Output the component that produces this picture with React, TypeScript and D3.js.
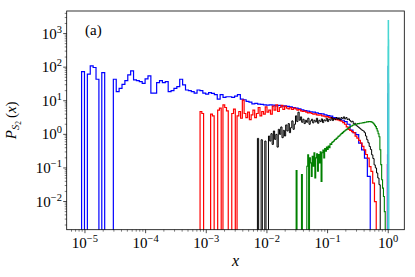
import * as d3 from 'd3'

const W = 415
const H = 277
const PLOT = { left: 66.7, right: 404.3, top: 11, bottom: 229.7 }
const FONT = '"Liberation Serif", "DejaVu Serif", serif'

// axis ranges (log scale)
const X_DOMAIN: [number, number] = [5.0e-6, 1.84]
const Y_DOMAIN: [number, number] = [1.45e-3, 4.7e3]

const X_TICKS = [1e-5, 1e-4, 1e-3, 1e-2, 1e-1, 1]
const X_TICK_EXP = ['−5', '−4', '−3', '−2', '−1', '0']
const Y_TICKS = [1e-2, 1e-1, 1, 1e1, 1e2, 1e3]
const Y_TICK_EXP = ['−2', '−1', '0', '1', '2', '3']

// histogram densities, log10 per bin (null = empty bin), 100 log-spaced bins each
const BLUE_RANGE: [number, number] = [8.8e-6, 0.505]
const BLUE = [
  1.87, null, 1.79, 2.04, 1.99, 1.64, null, 1.84, null, null,
  null, 1.64, 1.27, 1.37, 1.49, 1.6, 1.77, 1.89, 1.62, 1.6,
  1.57, 1.52, 1.65, 1.74, 1.23, 1.23, 1.54, 1.6, 1.54, 1.57,
  1.27, 1.3, 1.37, 1.42, 1.64, 1.47, 1.32, 1.3, 1.27, 1.23,
  1.32, 1.3, 1.23, 1.2, 1.24, 1.22, 1.18, 1.05, 1.18, 1.1,
  1.12, 1.12, 1.1, 1.14, 1.18, 1.05, 1.03, 0.98, 0.96, 0.91,
  0.92, 0.9, 0.89, 0.88, 0.87, 0.88, 0.87, 0.85, 0.86, 0.84,
  0.85, 0.83, 0.82, 0.8, 0.78, 0.76, 0.73, 0.71, 0.69, 0.67,
  0.66, 0.64, 0.62, 0.61, 0.58, 0.56, 0.54, 0.5, 0.48, 0.45,
  0.42, 0.38, 0.3, 0.13, 0.05, -0.01, -0.26, -0.46, -0.71, -1.25,
]

const RED_RANGE: [number, number] = [7.9e-4, 0.634]
const RED = [
  0.68, 0.62, null, null, null, null, 0.6, 0.55, null, null,
  0.72, 0.78, null, 0.88, 0.8, 0.7, null, null, 0.62, 0.75,
  null, 0.55, 0.68, 0.48, 1.02, 0.62, 0.5, 0.66, 0.44, 0.58,
  0.72, 0.5, 0.62, 0.8, 0.55, 0.68, 0.6, 0.82, 0.66, 0.72,
  0.6, 0.84, 0.72, 0.88, 0.68, 0.8, 0.86, 0.74, 0.83, 0.78,
  0.76, 0.8, 0.74, 0.78, 0.76, 0.72, 0.74, 0.7, 0.68, 0.69,
  0.66, 0.64, 0.65, 0.62, 0.6, 0.61, 0.58, 0.57, 0.58, 0.55,
  0.54, 0.52, 0.53, 0.5, 0.49, 0.47, 0.46, 0.44, 0.43, 0.41,
  0.39, 0.35, 0.3, 0.22, 0.15, 0.12, 0.08, 0.05, -0.05, -0.11,
  -0.18, -0.26, -0.36, -0.46, -0.6, -0.71, -0.96, -1.1, -1.45, -2.0,
]

const BLACK_RANGE: [number, number] = [6.97e-3, 0.738]
const BLACK = [
  -0.12, null, null, -0.16, null, null, -0.2, null, null, -0.05,
  -0.2, 0.02, -0.3, 0.1, -0.15, 0.0, -0.38, 0.15, 0.0, 0.22,
  -0.1, 0.12, -0.05, 0.28, 0.1, 0.32, 0.05, 0.2, 0.4, 0.15,
  0.3, 0.55, 0.38, 0.66, 0.42, 0.52, 0.36, 0.45, 0.32, 0.42,
  0.36, 0.48, 0.3, 0.4, 0.45, 0.34, 0.42, 0.37, 0.48, 0.33,
  0.42, 0.38, 0.46, 0.35, 0.43, 0.4, 0.48, 0.38, 0.45, 0.42,
  0.5, 0.41, 0.47, 0.44, 0.5, 0.45, 0.49, 0.43, 0.5, 0.47,
  0.52, 0.46, 0.5, 0.44, 0.46, 0.41, 0.37, 0.39, 0.32, 0.33,
  0.27, 0.24, 0.21, 0.18, 0.15, 0.12, 0.1, 0.05, -0.05, -0.16,
  -0.25, -0.36, -0.45, -0.61, -0.72, -0.91, -1.0, -1.15, -1.3, -1.5,
]

const GREEN_RANGE: [number, number] = [0.0303, 0.892]
const GREEN = [
  -1.08, null, null, null, null, null, -1.2, null, null, null,
  null, null, -0.95, -0.61, null, -0.7, -0.85, -1.25, -0.65, -0.95,
  -0.55, -1.3, -0.7, -0.58, -1.1, -0.6, -0.85, -0.52, -1.4, -0.55,
  -0.47, -0.7, -0.42, -0.5, -0.38, -0.45, -0.35, -0.4, -0.28, -0.3,
  -0.24, -0.22, -0.2, -0.16, -0.15, -0.12, -0.1, -0.06, -0.05, -0.02,
  0.01, 0.03, 0.05, 0.08, 0.1, 0.12, 0.14, 0.16, 0.18, 0.2,
  0.22, 0.24, 0.25, 0.27, 0.28, 0.29, 0.3, 0.3, 0.31, 0.32,
  0.32, 0.33, 0.33, 0.34, 0.34, 0.35, 0.35, 0.36, 0.36, 0.37,
  0.37, 0.38, 0.38, 0.38, 0.37, 0.36, 0.34, 0.31, 0.27, 0.23,
  0.17, 0.1, 0.02, -0.07, -0.46, -0.9, -1.35, -1.6, -1.85, -2.3,
]

// narrow peaks at x ~ 1
const MAGENTA_RANGE: [number, number] = [0.968, 0.985]
const MAGENTA = [-0.9, -0.61]
const ROYAL_RANGE: [number, number] = [0.985, 1.01]
const ROYAL = [1.2, 2.02, 1.5]
const CYAN_RANGE: [number, number] = [0.995, 1.015]
const CYAN = [2.6, 3.38, 2.8]

const SERIES = [
  { name: 'blue', values: BLUE, range: BLUE_RANGE, color: '#0000ff', width: 1.2 },
  { name: 'red', values: RED, range: RED_RANGE, color: '#ff0000', width: 1.2 },
  { name: 'black', values: BLACK, range: BLACK_RANGE, color: '#000000', width: 1.0 },
  { name: 'green', values: GREEN, range: GREEN_RANGE, color: '#008000', width: 1.1 },
  { name: 'magenta', values: MAGENTA, range: MAGENTA_RANGE, color: '#bf00bf', width: 1.4 },
  { name: 'royal', values: ROYAL, range: ROYAL_RANGE, color: '#3a7bd5', width: 1.4 },
  { name: 'cyan', values: CYAN, range: CYAN_RANGE, color: '#48d6d2', width: 1.4 },
]

const x = d3.scaleLog().domain(X_DOMAIN).range([PLOT.left, PLOT.right])
const y = d3.scaleLog().domain(Y_DOMAIN).range([PLOT.bottom, PLOT.top])

function stepPath(values: (number | null)[], range: [number, number]) {
  const n = values.length
  const edges = d3.range(n + 1).map((i) => range[0] * Math.pow(range[1] / range[0], i / n))
  const below = PLOT.bottom + 6
  const yv = (v: number | null) => (v == null ? below : y(Math.pow(10, v)))
  const pts: [number, number][] = [[x(edges[0]), below]]
  values.forEach((v, i) => {
    pts.push([x(edges[i]), yv(v)])
    pts.push([x(edges[i + 1]), yv(v)])
  })
  pts.push([x(edges[n]), below])
  return d3.line()(pts) ?? ''
}

function minorTicks(domain: [number, number]) {
  const out: number[] = []
  for (let k = -7; k <= 4; k++) {
    for (let m = 2; m <= 9; m++) {
      const v = m * Math.pow(10, k)
      if (v > domain[0] && v < domain[1]) out.push(v)
    }
  }
  return out
}

const textStyle = { fontFamily: FONT }

export default function App() {
  const xMinor = minorTicks(X_DOMAIN)
  const yMinor = minorTicks(Y_DOMAIN)

  return (
    <div style={{ position: 'absolute', left: 0, top: 0 }}>
      <style>{'body{margin:0}'}</style>
      <svg width={W} height={H} style={{ display: 'block', background: '#fff' }}>
        <defs>
          <clipPath id="plot-clip">
            <rect x={PLOT.left} y={PLOT.top} width={PLOT.right - PLOT.left} height={PLOT.bottom - PLOT.top} />
          </clipPath>
        </defs>

        {/* histograms */}
        <g clipPath="url(#plot-clip)" fill="none">
          {SERIES.map((s) => (
            <path key={s.name} d={stepPath(s.values, s.range)} stroke={s.color} strokeWidth={s.width} />
          ))}
        </g>

        {/* frame */}
        <rect x={PLOT.left} y={PLOT.top} width={PLOT.right - PLOT.left} height={PLOT.bottom - PLOT.top}
          fill="none" stroke="#000" strokeWidth={0.8} />

        {/* ticks */}
        <g stroke="#000" strokeWidth={0.7}>
          {X_TICKS.map((t) => (
            <line key={'xM' + t} x1={x(t)} x2={x(t)} y1={PLOT.bottom} y2={PLOT.bottom + 3.5} />
          ))}
          {xMinor.map((t) => (
            <line key={'xm' + t} x1={x(t)} x2={x(t)} y1={PLOT.bottom} y2={PLOT.bottom + 2} strokeWidth={0.5} />
          ))}
          {Y_TICKS.map((t) => (
            <line key={'yM' + t} x1={PLOT.left - 3.5} x2={PLOT.left} y1={y(t)} y2={y(t)} />
          ))}
          {yMinor.map((t) => (
            <line key={'ym' + t} x1={PLOT.left - 2} x2={PLOT.left} y1={y(t)} y2={y(t)} strokeWidth={0.5} />
          ))}
        </g>

        {/* tick labels */}
        {X_TICKS.map((t, i) => (
          <text key={'xl' + t} x={x(t)} y={248} textAnchor="middle" fontSize={15} style={textStyle}>
            10<tspan fontSize={10.5} dy={-6}>{X_TICK_EXP[i]}</tspan>
          </text>
        ))}
        {Y_TICKS.map((t, i) => (
          <text key={'yl' + t} x={62} y={y(t) + 5} textAnchor="end" fontSize={15} style={textStyle}>
            10<tspan fontSize={10.5} dy={-6}>{Y_TICK_EXP[i]}</tspan>
          </text>
        ))}

        {/* axis labels */}
        <text x={(PLOT.left + PLOT.right) / 2} y={266} textAnchor="middle" fontSize={16} fontStyle="italic" style={textStyle}>x</text>
        <text transform={`translate(16,${(PLOT.top + PLOT.bottom) / 2}) rotate(-90)`} textAnchor="middle" fontSize={15} style={textStyle}>
          <tspan fontStyle="italic">P</tspan>
          <tspan fontSize={10.5} fontStyle="italic" dy={3}>S</tspan>
          <tspan fontSize={7.5} dy={2}>2</tspan>
          <tspan dy={-5}>{'\u2009('}</tspan>
          <tspan fontStyle="italic">x</tspan>
          <tspan>)</tspan>
        </text>

        <text x={85} y={35} fontSize={15} style={textStyle}>(a)</text>
      </svg>
    </div>
  )
}
